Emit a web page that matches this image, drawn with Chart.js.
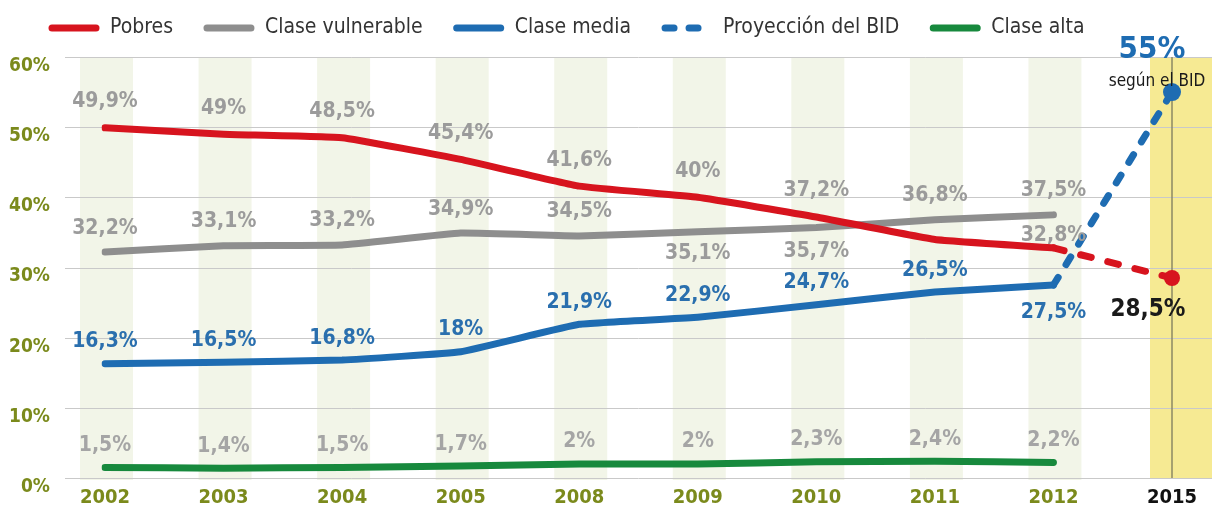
<!DOCTYPE html>
<html lang="es">
<head>
<meta charset="utf-8">
<script src="https://cdn.jsdelivr.net/npm/chart.js@4.4.1/dist/chart.umd.min.js"></script>
<style>
  html, body { margin: 0; padding: 0; background: #fff; overflow: hidden; }
  canvas { display: block; }
</style>
</head>
<body>
<canvas id="grafico" width="1212" height="508"></canvas>
<script>
// ---- datos ----
const ANIOS = ['2002', '2003', '2004', '2005', '2008', '2009', '2010', '2011', '2012', '2015'];
const POBRES = [49.9, 49, 48.5, 45.4, 41.6, 40, 37.2, 34, 32.8];
const VULNERABLE = [32.2, 33.1, 33.2, 34.9, 34.5, 35.1, 35.7, 36.8, 37.5];
const MEDIA = [16.3, 16.5, 16.8, 18, 21.9, 22.9, 24.7, 26.5, 27.5];
const ALTA = [1.5, 1.4, 1.5, 1.7, 2, 2, 2.3, 2.4, 2.2];
// proyección 2012 -> 2015
const PROY_MEDIA = [27.5, 55];
const PROY_POBRES = [32.8, 28.5];

const ROJO = '#d7141e', GRIS = '#8e8e8e', AZUL = '#1e6cb2', VERDE = '#17893d', OLIVA = '#7b8a1c';
const COND = "'DejaVu Sans Condensed', 'DejaVu Sans', sans-serif";

const pct = v => String(v).replace('.', ',') + '%';
const proy = v => Array(ANIOS.length - v.length).fill(null).concat(v);

const linea = {
  borderWidth: 7, tension: 0.1, fill: false,
  borderCapStyle: 'round', borderJoinStyle: 'round', pointRadius: 0
};

// fondo: franjas por año, banda 2015 y líneas de la grilla
const fondo = {
  id: 'fondo',
  beforeDatasetsDraw(chart) {
    const {ctx, chartArea: a, scales: {x, y}} = chart;
    ctx.save();
    ANIOS.forEach((anio, i) => {
      const px = x.getPixelForValue(i);
      if (i === ANIOS.length - 1) {
        ctx.fillStyle = '#f6ea93';
        ctx.fillRect(px - 22, a.top, chart.width - px + 22, a.bottom - a.top);
      } else {
        ctx.fillStyle = '#f2f5e8';
        ctx.fillRect(px - 25, a.top, 53, a.bottom - a.top + 2);
      }
    });
    ctx.strokeStyle = '#c9c9c9';
    ctx.lineWidth = 1;
    y.ticks.forEach(t => {
      const py = Math.round(y.getPixelForValue(t.value)) + 0.5;
      ctx.beginPath(); ctx.moveTo(a.left - 40, py); ctx.lineTo(chart.width, py); ctx.stroke();
    });
    const px = x.getPixelForValue(ANIOS.length - 1);
    ctx.strokeStyle = '#8b8863';
    ctx.lineWidth = 1.5;
    ctx.beginPath(); ctx.moveTo(px, a.top); ctx.lineTo(px, a.bottom); ctx.stroke();
    ctx.restore();
  }
};

// etiquetas de valores y notas de 2015
const etiquetas = {
  id: 'etiquetas',
  afterDatasetsDraw(chart) {
    const ctx = chart.ctx;
    ctx.save();
    ctx.textAlign = 'center';
    ctx.textBaseline = 'middle';
    ctx.font = 'bold 21px ' + COND;
    chart.data.datasets.forEach((ds, i) => {
      const e = ds.etiqueta;
      if (!e) return;
      const meta = chart.getDatasetMeta(i);
      ctx.fillStyle = e.color;
      ds.data.forEach((v, j) => {
        if (v == null || (e.omitir || []).includes(j)) return;
        const p = meta.data[j];
        const dy = (e.ajuste && e.ajuste[j] !== undefined) ? e.ajuste[j] : e.dy;
        ctx.fillText(pct(v), p.x, p.y + dy);
      });
    });

    const last = ANIOS.length - 1;
    const pb = chart.getDatasetMeta(3).data[last];
    ctx.textBaseline = 'alphabetic';
    ctx.fillStyle = AZUL;
    ctx.font = 'bold 31px ' + COND;
    ctx.fillText(pct(PROY_MEDIA[1]), pb.x - 20, pb.y - 34);
    ctx.fillStyle = '#1a1a1a';
    ctx.font = '17px ' + COND;
    ctx.fillText('según el BID', pb.x - 15, pb.y - 6);
    const pr = chart.getDatasetMeta(5).data[last];
    ctx.font = 'bold 24px ' + COND;
    ctx.fillText(pct(PROY_POBRES[1]), pr.x - 24, pr.y + 38);
    ctx.restore();
  }
};

// leyenda superior
const leyenda = {
  id: 'leyenda',
  afterDraw(chart) {
    const ctx = chart.ctx;
    let x = 48;
    const yc = 28;
    ctx.save();
    ctx.font = '21px ' + COND;
    ctx.textBaseline = 'middle';
    chart.data.datasets.forEach(ds => {
      if (ds.leyenda === false) return;
      ctx.strokeStyle = ds.borderColor;
      ctx.lineWidth = 7;
      ctx.lineCap = 'round';
      ctx.setLineDash(ds.borderDash || []);
      ctx.beginPath(); ctx.moveTo(x + 4, yc); ctx.lineTo(x + 48, yc); ctx.stroke();
      ctx.setLineDash([]);
      ctx.fillStyle = '#333';
      ctx.fillText(ds.label, x + 62, yc);
      x += 62 + ctx.measureText(ds.label).width + 30;
    });
    ctx.restore();
  }
};

new Chart(document.getElementById('grafico'), {
  type: 'line',
  data: {
    labels: ANIOS,
    datasets: [
      {...linea, label: 'Pobres', data: POBRES, borderColor: ROJO, backgroundColor: ROJO,
        etiqueta: {color: '#9b9b9b', dy: -26, omitir: [7], ajuste: {8: -12}}},
      {...linea, label: 'Clase vulnerable', data: VULNERABLE, borderColor: GRIS, backgroundColor: GRIS,
        etiqueta: {color: '#9b9b9b', dy: -24, ajuste: {5: 22, 6: 24}}},
      {...linea, label: 'Clase media', data: MEDIA, borderColor: AZUL, backgroundColor: AZUL,
        etiqueta: {color: '#2a6fae', dy: -22, ajuste: {8: 28}}},
      {...linea, label: 'Proyección del BID', data: proy(PROY_MEDIA), borderColor: AZUL, backgroundColor: AZUL,
        borderDash: [9, 15], tension: 0,
        pointRadius: c => c.dataIndex === ANIOS.length - 1 ? 9 : 0, pointBorderWidth: 0},
      {...linea, label: 'Clase alta', data: ALTA, borderColor: VERDE, backgroundColor: VERDE,
        etiqueta: {color: '#a5a5a5', dy: -22}},
      {...linea, label: 'Proyección pobres', data: proy(PROY_POBRES), borderColor: ROJO, backgroundColor: ROJO,
        borderDash: [11, 17], tension: 0, leyenda: false,
        pointRadius: c => c.dataIndex === ANIOS.length - 1 ? 8 : 0, pointBorderWidth: 0}
    ]
  },
  options: {
    responsive: false,
    animation: false,
    events: [],
    layout: {padding: {top: 57, right: 40, bottom: 0, left: 0}},
    plugins: {legend: {display: false}, tooltip: {enabled: false}},
    scales: {
      x: {
        grid: {display: false, drawTicks: false},
        border: {display: false},
        ticks: {
          padding: 8, autoSkip: false, maxRotation: 0,
          color: c => c.index === ANIOS.length - 1 ? '#111' : OLIVA,
          font: {family: COND, size: 20, weight: 'bold'}
        },
        afterFit: s => { s.height = 30; }
      },
      y: {
        min: 0, max: 60,
        grid: {display: false, drawTicks: false},
        border: {display: false},
        ticks: {
          stepSize: 10, padding: 55, labelOffset: 9,
          callback: v => v + '%',
          color: OLIVA,
          font: {family: COND, size: 19, weight: 'bold'}
        },
        afterFit: s => { s.width = 105; s.paddingTop = 10; s.paddingBottom = 10; }
      }
    }
  },
  plugins: [fondo, etiquetas, leyenda]
});
</script>
</body>
</html>
